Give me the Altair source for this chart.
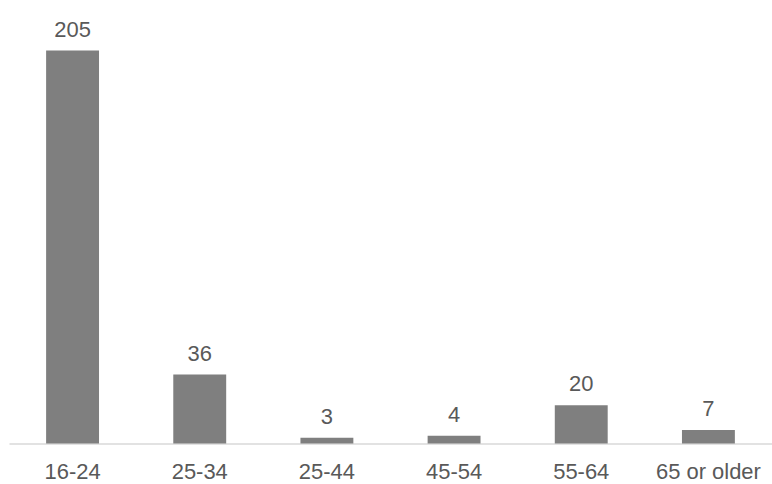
import altair as alt
import pandas as pd

categories = ["16-24", "25-34", "25-44", "45-54", "55-64", "65 or older"]
values = [205, 36, 3, 4, 20, 7]

df = pd.DataFrame({"cat": categories, "val": values})

FONT = "Liberation Sans"

base = alt.Chart(df).encode(
    x=alt.X(
        "cat:N",
        sort=categories,
        scale=alt.Scale(paddingInner=0.584, paddingOuter=0.292),
        axis=alt.Axis(
            title=None,
            labelAngle=0,
            labelFont=FONT,
            labelFontSize=22,
            labelColor="#595959",
            labelPadding=18,
            ticks=False,
            domainColor="#d9d9d9",
            domainWidth=1.5,
        ),
    ),
    y=alt.Y("val:Q", scale=alt.Scale(domain=[0, 205], nice=False), axis=None),
)

bars = base.mark_bar(color="#7f7f7f")
text = base.mark_text(
    baseline="bottom", dy=-9, font=FONT, fontSize=22, color="#595959"
).encode(text="val:Q")

chart = (
    (bars + text)
    .properties(
        width=765,
        height=394,
        autosize=alt.AutoSizeParams(type="none"),
        padding={"left": 9, "top": 50, "right": 0, "bottom": 40},
    )
    .configure_view(stroke=None)
)

chart.save("out.html", embed_options={"renderer": "svg", "actions": False})
